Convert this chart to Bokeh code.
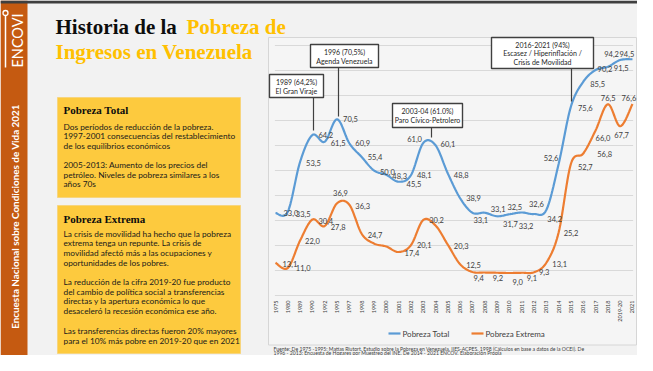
import numpy as np
from bokeh.plotting import figure
from bokeh.models import Range1d
from bokeh.core.properties import value
from bokeh.embed import file_html
from bokeh.resources import INLINE

# ---------------- data ----------------
years = ["1975", "1980", "1989", "1990", "1992", "1995", "1997", "1998", "1999", "2000",
         "2001", "2002", "2003", "2004", "2005", "2006", "2007", "2008", "2009", "2010",
         "2011", "2012", "2013", "2014", "2015", "2016", "2017", "2018", "2019-20", "2021"]
pobreza_total = [33.0, 33.5, 53.5, 64.2, 61.5, 70.5, 60.9, 55.4, 50.0, 48.3,
                 45.5, 48.1, 61.0, 60.1, 48.8, 38.9, 33.1, 33.1, 31.7, 32.5,
                 33.2, 32.6, 34.2, 52.6, 75.6, 85.5, 90.2, 91.5, 94.2, 94.5]
pobreza_extrema = [13.1, 11.0, 22.0, 30.4, 27.8, 36.9, 36.3, 24.7, 20.8, 19.6,
                   17.4, 20.1, 30.2, 28.0, 20.3, 12.5, 9.4, 9.2, 9.1, 9.0,
                   9.1, 9.3, 13.1, 25.2, 52.7, 56.8, 66.0, 76.5, 67.7, 76.6]
extrema_sin_etiqueta = [8, 9, 13, 18]
y_ticks = [0, 10, 20, 30, 40, 50, 60, 70, 80, 90, 100]

# label offsets (screen px) - styling only
tot_dx = [8, 8, 6, 6, 6, 6, 6, 6, 6, 6, 8, 6, -16, 5, 6, 6, 1, 6, 6, -2, -3, -5, 1, -15, 7, 7, 2, 6, -16, -13]
tot_dy = [0, 2, 1, 0, 1, 0, 0, 0, 1, 1, 2, 0, -4, -1, 1, 0, 7, -4, 8, -7, 13, -10, 9, -6, 1, 2, -1, 1, -6, -5]
ext_dx = [7, 8, 5, 6, 6, -4, 6, 6, 0, 0, 6, 6, 6, 0, 6, 6, 1, 8, 0, 3, 5, 5, 6, 5, 7, 14, 0, -7, -6, -11]
ext_dy = [1, 0, 0, 1, 1, -10, 1, 1, 0, 0, 1, 0, 0, 0, 1, 1, 6, 5, 0, 9, 5, 0, 1, 0, 3, 0, 7, -6, 9, -6]

BLUE = "#5B9BD5"
ORANGE = "#ED7D31"
GOLD = "#FFC000"
DARK = "#404040"

W, H = 637, 355
p = figure(width=W, height=H, x_range=Range1d(0, W), y_range=Range1d(H, 0),
           x_axis_location=None, y_axis_location=None, output_backend="svg",
           toolbar_location=None, min_border=0, title=None)
p.grid.visible = False
p.outline_line_color = None
p.background_fill_color = "#F2F2F2"
p.border_fill_color = "#F2F2F2"
# chart scales: category index and percentage
X0, DX = 275.0, 12.31
Y0, DY = 295.0, 2.5
p.extra_x_ranges = {"cx": Range1d((0 - X0) / DX, (W - X0) / DX)}
p.extra_y_ranges = {"cy": Range1d((Y0 - H) / DY, Y0 / DY)}
C = dict(x_range_name="cx", y_range_name="cy")


def T(xs, ys, texts, size="8px", color=DARK, font="Lato", style="normal",
      align="left", baseline="middle", angle=0.0, chart=False, xo=0, yo=0):
    kw = C if chart else {}
    p.text(x=xs, y=ys, text=texts, text_font=value(font), text_font_size=size,
           text_color=color, text_font_style=style, text_align=align,
           text_baseline=baseline, angle=angle, x_offset=xo, y_offset=yo, **kw)


# ---------------- page frame ----------------
p.quad(left=[0], right=[27], top=[0], bottom=[371], fill_color="#C55A11", line_color=None)
p.quad(left=[0], right=[653], top=[0], bottom=[3], fill_color="#3F3F3F", line_color=None)
p.quad(left=[268], right=[636], top=[37], bottom=[344.5], fill_color="#F5F5F5",
       line_color="#D6D6D6", line_width=1)

# yellow panels
p.quad(left=[57, 57], right=[240, 240], top=[97, 205], bottom=[197, 353],
       fill_color="#FDCA3E", line_color="#F7D57E", line_width=1)

# ---------------- chart ----------------
n = len(years)
idx = list(range(n))
p.segment(x0=[-0.05] * len(y_ticks), x1=[n - 1 + 0.05] * len(y_ticks), y0=y_ticks, y1=y_ticks,
          line_color="#D9D9D9", line_width=1, **C)


def smooth(xs, ys, steps=14):
    pts = np.column_stack([xs, ys]).astype(float)
    out = []
    for i in range(len(pts) - 1):
        p0 = pts[i - 1] if i > 0 else pts[i]
        p1, p2 = pts[i], pts[i + 1]
        p3 = pts[i + 2] if i + 2 < len(pts) else pts[i + 1]
        c1 = p1 + (p2 - p0) / 6.0
        c2 = p2 - (p3 - p1) / 6.0
        for t in np.linspace(0, 1, steps, endpoint=False):
            out.append((1 - t) ** 3 * p1 + 3 * (1 - t) ** 2 * t * c1 + 3 * (1 - t) * t ** 2 * c2 + t ** 3 * p2)
    out.append(pts[-1])
    out = np.array(out)
    return out[:, 0], out[:, 1]


bx, by = smooth(idx, pobreza_total)
ox, oy = smooth(idx, pobreza_extrema)
p.line(bx, by, line_color=BLUE, line_width=2.2, **C)
p.line(ox, oy, line_color=ORANGE, line_width=2.2, **C)


def fmt(v):
    return f"{v:.1f}".replace(".", ",")


T(idx, pobreza_total, [fmt(v) for v in pobreza_total], size="7.5px", chart=True,
  xo=tot_dx, yo=tot_dy)
lab_i = [i for i in idx if i not in extrema_sin_etiqueta]
T(lab_i, [pobreza_extrema[i] for i in lab_i], [fmt(pobreza_extrema[i]) for i in lab_i],
  size="7.5px", chart=True, xo=[ext_dx[i] for i in lab_i], yo=[ext_dy[i] for i in lab_i])

# category labels (rotated)
T(idx, [-2.0] * n, years, size="5.5px", color="#404040", align="right",
  angle=np.pi / 2, chart=True)

# callouts
boxes = [(269, 323, 74, 97), (310, 378, 44, 67), (392, 462, 103, 127), (491, 593, 37, 68)]
leaders = [(313, 97, 130), (338, 67, 116), (431, 127, 137), (571, 68, 101)]
for (x, y0, y1) in leaders:
    p.segment(x0=[x], x1=[x], y0=[y0], y1=[y1], line_color=DARK, line_width=1.2)
p.quad(left=[b[0] for b in boxes], right=[b[1] for b in boxes], top=[b[2] for b in boxes],
       bottom=[b[3] for b in boxes], fill_color="white", line_color=DARK, line_width=1.4)
T([296, 296, 344, 344, 427, 427, 542, 542, 542],
  [81, 90.5, 51.5, 60.5, 110.5, 119.5, 44, 52.5, 61],
  ["1989 (64,2%)", "El Gran Viraje", "1996 (70,5%)", "Agenda Venezuela",
   "2003-04 (61.0%)", "Paro Cívico-Petrolero", "2016-2021 (94%)",
   "Escasez / Hiperinflación /", "Crisis de Movilidad"],
  size="7px", color="#262626", align="center")

# legend
p.segment(x0=[388, 471], x1=[400, 483], y0=[333, 333], y1=[333, 333],
          line_color=[BLUE, ORANGE], line_width=2.2)
T([402, 485], [333, 333], ["Pobreza Total", "Pobreza Extrema"], size="8px", color="#404040")

# footer
T([273, 273], [348.2, 352.8],
  ["Fuente: De 1975 -1995: Matías Riutort. Estudio sobre la Pobreza en Venezuela. IIES-ACPES. 1998 (Cálculos en base a datos de la OCEI). De",
   "1996 - 2013: Encuesta de Hogares por Muestreo del INE. De 2014 - 2021 ENCOV. Elaboración Propia"],
  size="5.1px", color="#404040")

# ---------------- title ----------------
T([55], [26], ["Historia de la"], size="21px", color="#0D0D0D", font="Liberation Serif",
  style="bold")
T([186, 55], [26, 51], ["Pobreza de", "Ingresos en Venezuela"], size="21px", color=GOLD,
  font="Liberation Serif", style="bold")

# ---------------- side band ----------------
p.segment(x0=[5], x1=[5], y0=[15], y1=[67], line_color="white", line_width=1.5)
p.scatter(x=[5], y=[12.5], size=5, marker="circle", fill_color="#C55A11",
          line_color="white", line_width=1.3)
T([17], [40], ["ENCOVI"], size="14.5px", color="white", font="Lato", align="center",
  angle=np.pi / 2)
T([14], [216], ["Encuesta Nacional sobre Condiciones de Vida 2021"], size="9.9px",
  color="white", font="Lato", style="bold", align="center", angle=np.pi / 2)

# ---------------- panels text ----------------
T([63, 63], [109.5, 218.5], ["Pobreza Total", "Pobreza Extrema"], size="11px", color="#0D0D0D",
  font="Liberation Serif", style="bold")
panel1 = ["Dos períodos de reducción de la pobreza.",
          "1997-2001 consecuencias del restablecimiento",
          "de los equilibrios económicos",
          "2005-2013: Aumento de los precios del",
          "petróleo. Niveles de pobreza similares a los",
          "años 70s"]
T([63] * 6, [126, 135.8, 145.4, 164.8, 174.3, 183.8], panel1, size="8.3px", color="#1A1A1A")
panel2 = ["La crisis de movilidad ha hecho que la pobreza",
          "extrema tenga un repunte. La crisis de",
          "movilidad afectó más a las ocupaciones y",
          "oportunidades de los pobres.",
          "La reducción de la cifra 2019-20 fue producto",
          "del cambio de política social a transferencias",
          "directas y la apertura económica lo que",
          "desaceleró la recesión económica ese año.",
          "Las transferencias directas fueron 20% mayores",
          "para el 10% más pobre en 2019-20 que en 2021"]
T([63] * 10, [233.3, 242.7, 252.3, 262, 281.7, 291, 300.7, 310, 330, 340], panel2,
  size="8.3px", color="#1A1A1A")

open("out.html", "w").write(file_html(p, INLINE))
